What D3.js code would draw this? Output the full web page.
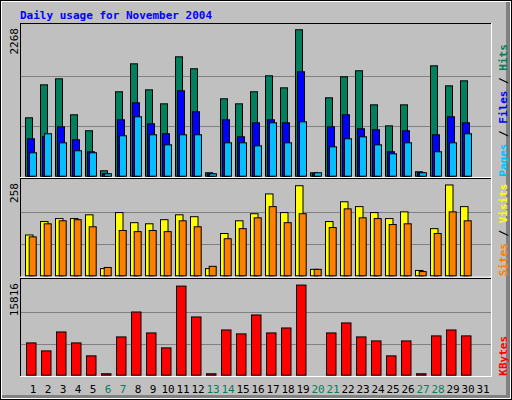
<!DOCTYPE html>
<html><head><meta charset="utf-8">
<script src="https://cdn.jsdelivr.net/npm/d3@7"></script>
<style>body{margin:0;background:#fff}svg{display:block}</style>
</head><body>
<script>
var days = d3.range(1, 32);
var weekends = [6, 7, 13, 14, 20, 21, 27, 28];
var hits = [888,1381,1471,933,694,96,1277,1695,1306,1097,1800,1621,66,1172,1097,1277,1516,1336,2204,66,1187,1501,1591,1082,768,1082,81,1665,1366,1441,0];
var files = [574,604,753,559,380,51,858,1112,798,649,1292,978,51,858,604,813,858,813,1576,51,753,933,724,709,380,694,66,634,903,813,0];
var pages = [365,649,514,395,365,51,619,903,634,484,634,634,51,514,514,469,813,514,828,66,454,574,604,484,350,514,66,380,514,649,0];
var visits = [112,148,156,156,166,22,172,145,142,153,166,161,22,116,150,169,222,172,244,20,148,201,188,172,156,174,17,129,246,188,0];
var sites = [107,142,150,153,134,25,124,121,124,121,150,134,28,102,129,158,188,145,169,20,132,182,158,156,140,142,14,116,174,150,0];
var kbytes = [5500,4180,7310,5500,3360,400,6490,10610,7150,4680,14890,9790,400,7640,6990,10120,7150,7970,15060,100,7150,8800,6490,5830,3360,5830,400,6660,7640,6660,0];
var maxHits = 2268, maxVisits = 258, maxKB = 15816;

var W = 512, H = 400;
var svg = d3.select("body").append("svg").attr("width", W).attr("height", H);
var mono = "'DejaVu Sans Mono', monospace";

// frame
svg.append("rect").attr("width", W).attr("height", H).attr("fill", "#000");
svg.append("rect").attr("x", 1).attr("y", 1).attr("width", W - 2).attr("height", H - 2).attr("fill", "#fff");
svg.append("rect").attr("x", 2).attr("y", 2).attr("width", W - 4).attr("height", H - 4).attr("fill", "#808080");
svg.append("rect").attr("x", 2).attr("y", 2).attr("width", W - 8).attr("height", H - 7).attr("fill", "#C0C0C0");

svg.append("text").attr("x", 20).attr("y", 19).attr("fill", "#0000FF")
	.style("font", "bold 11px " + mono).text("Daily usage for November 2004");

var x = d3.scaleBand().domain(days).range([25, 25 + 15 * 31]);

var panels = [
	{top: 25, base: 176.7, max: maxHits, label: [["Pages", "#00C0FF"], [" / ", "#000"], ["Files", "#0000FF"], [" / ", "#000"], ["Hits", "#00805C"]],
	 series: [[hits, "#00805C", 0, 8], [files, "#0000FF", 2, 8], [pages, "#00C0FF", 4, 8]]},
	{top: 180, base: 276.3, max: maxVisits, label: [["Sites", "#FF8000"], [" / ", "#000"], ["Visits", "#FFFF00"]],
	 series: [[visits, "#FFFF00", 0, 8.5], [sites, "#FF8000", 3.7, 8]]},
	{top: 280, base: 375.7, max: maxKB, label: [["KBytes", "#FF0000"]],
	 series: [[kbytes, "#FF0000", 1, 10.5]]}
];

panels.forEach(function(p) {
	var y = d3.scaleLinear().domain([0, p.max]).range([p.base, p.top]);
	svg.append("line").attr("x1", 20).attr("x2", 491).attr("y1", p.top - 1.5).attr("y2", p.top - 1.5).attr("stroke", "#000");
	svg.append("line").attr("x1", 20.5).attr("x2", 20.5).attr("y1", p.top - 2).attr("y2", p.base + 1).attr("stroke", "#000");
	svg.append("line").attr("x1", 491.5).attr("x2", 491.5).attr("y1", p.top - 2).attr("y2", p.base + 1).attr("stroke", "#fff");
	svg.append("line").attr("x1", 20).attr("x2", 492).attr("y1", p.base + 0.8).attr("y2", p.base + 0.8).attr("stroke", "#fff");
	[1 / 3, 2 / 3].forEach(function(f) {
		var gy = Math.round(y(p.max * f)) + 0.5;
		svg.append("line").attr("x1", 21).attr("x2", 491).attr("y1", gy).attr("y2", gy).attr("stroke", "#808080");
	});
	p.series.forEach(function(s) {
		svg.append("g").selectAll("rect").data(s[0]).join("rect")
			.attr("x", function(d, i) { return x(days[i]) + s[2] + 0.5; })
			.attr("width", s[3] - 1)
			.attr("y", function(d) { return y(d) + 0.5; })
			.attr("height", function(d) { return Math.max(0, p.base - y(d) - 1); })
			.attr("fill", s[1]).attr("stroke", "#000")
			.style("display", function(d) { return d > 0 ? null : "none"; });
	});
	svg.append("text").attr("transform", "translate(18," + (p.top + 3) + ") rotate(-90)")
		.attr("text-anchor", "end").style("font", "11px " + mono).attr("fill", "#000").text(p.max);
	var t = svg.append("text").attr("transform", "translate(507," + p.base + ") rotate(-90)")
		.style("font", "bold 11px " + mono);
	p.label.forEach(function(l) { t.append("tspan").attr("fill", l[1]).text(l[0]); });
});

svg.append("g").selectAll("text").data(days).join("text")
	.attr("x", function(d) { return x(d) + 8; }).attr("y", 393)
	.attr("text-anchor", "middle").style("font", "11px " + mono)
	.attr("fill", function(d) { return weekends.indexOf(d) >= 0 ? "#00805C" : "#000"; })
	.text(function(d) { return d; });
</script>
</body></html>
